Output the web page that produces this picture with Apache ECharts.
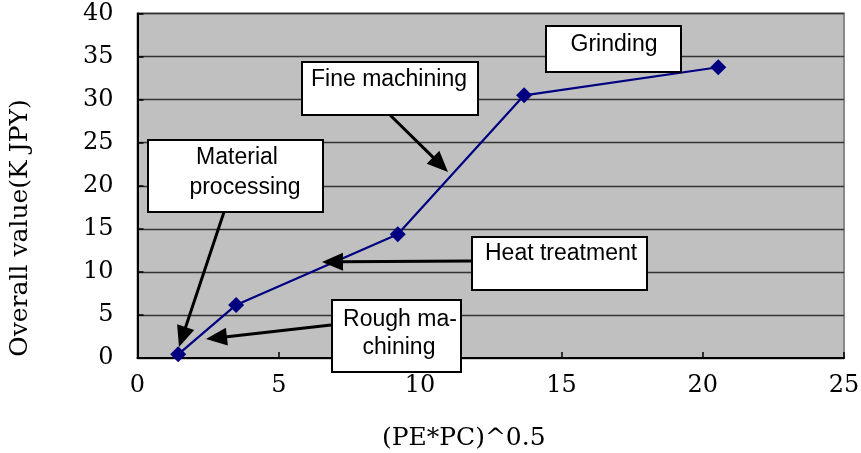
<!DOCTYPE html>
<html>
<head>
<meta charset="utf-8">
<script src="https://cdn.jsdelivr.net/npm/echarts@6/dist/echarts.min.js"></script>
<style>
html,body{margin:0;padding:0;background:#fff;}
#c{width:861px;height:453px;}
</style>
</head>
<body>
<div id="c"></div>
<script>
// ---- data ----
var xValues = [1.44, 3.49, 9.21, 13.68, 20.55];
var yValues = [0.43, 6.16, 14.37, 30.5, 33.76];
var stageNames = ['Rough machining', 'Material processing', 'Heat treatment', 'Fine machining', 'Grinding'];
var xAxisName = '(PE*PC)^0.5';
var yAxisName = 'Overall value(K JPY)';

var points = xValues.map(function (x, i) { return [x, yValues[i]]; });

var chart = echarts.init(document.getElementById('c'), null, {renderer: 'canvas'});

var SANS = '"Liberation Sans", Arial, sans-serif';
var SERIF = '"DejaVu Serif", "Liberation Serif", serif';

function box(x1, y1, x2, y2) {
  return {type: 'rect', z: 100, shape: {x: x1, y: y1, width: x2 - x1, height: y2 - y1},
    style: {fill: '#fff', stroke: '#000', lineWidth: 2}};
}
function txt(x, y, s, align) {
  return {type: 'text', z: 101, x: x, y: y,
    style: {text: s, fill: '#000', font: '23px ' + SANS, textAlign: align || 'center', textVerticalAlign: 'middle'}};
}
function arrow(x1, y1, x2, y2) {
  var dx = x2 - x1, dy = y2 - y1, L = Math.sqrt(dx * dx + dy * dy);
  var ux = dx / L, uy = dy / L, hl = 21, hw = 9;
  var bx = x2 - ux * hl, by = y2 - uy * hl;
  return [
    {type: 'line', z: 99, shape: {x1: x1, y1: y1, x2: bx + ux * 2, y2: by + uy * 2},
      style: {stroke: '#000', lineWidth: 3}},
    {type: 'polygon', z: 99, shape: {points: [[x2, y2], [bx - uy * hw, by + ux * hw], [bx + uy * hw, by - ux * hw]]},
      style: {fill: '#000'}}
  ];
}

var graphics = [];
// y axis title
graphics.push({type: 'text', x: 20, y: 228, rotation: Math.PI / 2, z: 50,
  style: {text: yAxisName, fill: '#000', font: '25px ' + SERIF, textAlign: 'center', textVerticalAlign: 'middle'}});
// Material processing
graphics.push(box(148, 140, 323, 212));
graphics.push(txt(237, 158, 'Material'));
graphics.push(txt(245, 188, 'processing'));
graphics = graphics.concat(arrow(224, 212, 179, 347));
// Fine machining
graphics.push(box(302, 62, 478, 115));
graphics.push(txt(311, 80, 'Fine machining', 'left'));
graphics = graphics.concat(arrow(390, 115, 448, 172));
// Heat treatment
graphics.push(box(472, 237, 647, 290));
graphics.push(txt(485, 254, 'Heat treatment', 'left'));
graphics = graphics.concat(arrow(471, 261, 322, 262));
// Grinding
graphics.push(box(546, 26, 681, 72));
graphics.push(txt(614, 45, 'Grinding'));
// Rough machining
graphics.push(box(332, 300, 461, 372));
graphics.push(txt(400, 320, 'Rough ma-'));
graphics.push(txt(399, 348, 'chining'));
graphics = graphics.concat(arrow(331, 325, 206, 339));

chart.setOption({
  animation: false,
  backgroundColor: '#fff',
  grid: {left: 137.5, right: 17, top: 13.5, bottom: 95, show: true, containLabel: false,
    outerBoundsMode: 'none',
    backgroundColor: '#c0c0c0', borderColor: '#888', borderWidth: 2},
  xAxis: {
    type: 'value', min: 0, max: 25, interval: 5,
    name: xAxisName, nameLocation: 'middle', nameGap: 68,
    nameTextStyle: {fontFamily: SERIF, fontSize: 25, color: '#000', padding: [0, 54, 0, 0]},
    axisLine: {show: true, lineStyle: {color: '#000', width: 2}},
    axisTick: {show: true, inside: true, length: 6, lineStyle: {color: '#000', width: 1.5}},
    axisLabel: {fontFamily: SERIF, fontSize: 24, color: '#000', margin: 16},
    splitLine: {show: false}
  },
  yAxis: {
    type: 'value', min: 0, max: 40, interval: 5,
    axisLine: {show: true, lineStyle: {color: '#000', width: 2}},
    axisTick: {show: true, inside: true, length: 6, lineStyle: {color: '#000', width: 1.5}},
    axisLabel: {fontFamily: SERIF, fontSize: 24, color: '#000', margin: 24},
    splitLine: {show: true, lineStyle: {color: '#333', width: 1.3}}
  },
  series: [{
    type: 'line', name: 'Overall value', data: points,
    symbol: 'diamond', symbolSize: 16,
    lineStyle: {color: '#000080', width: 2.2},
    itemStyle: {color: '#000080'},
    z: 5
  }],
  graphic: graphics
});
</script>
</body>
</html>
